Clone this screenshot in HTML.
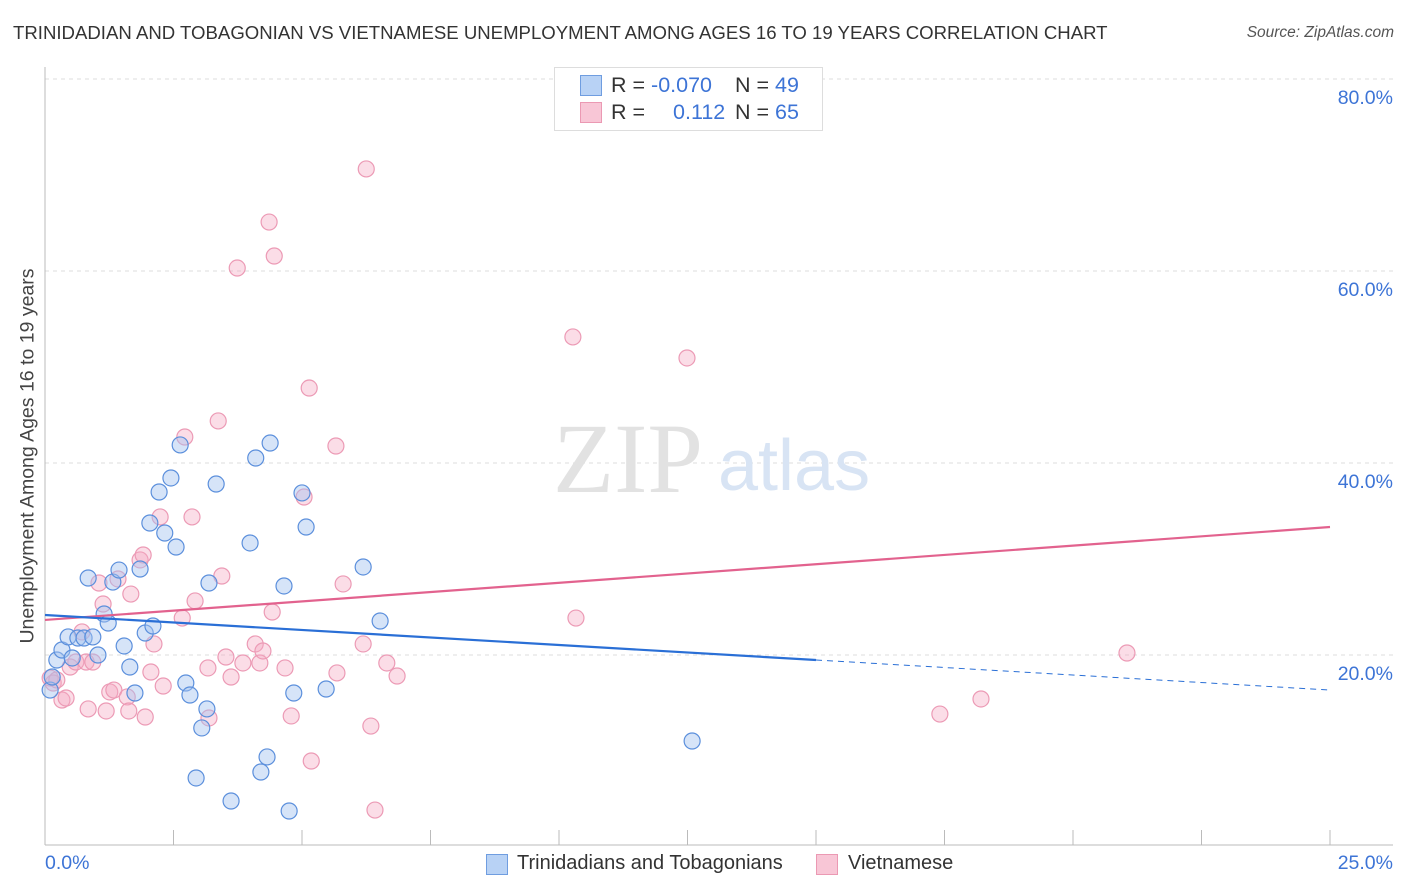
<!DOCTYPE html>
<html><head><meta charset="utf-8">
<style>
body{margin:0;background:#fff;font-family:"Liberation Sans",sans-serif;}
#wrap{position:relative;width:1406px;height:892px;overflow:hidden;}
.t{position:absolute;white-space:nowrap;}
</style></head>
<body>
<div id="wrap">
<div class="t" style="left:13px;top:22px;font-size:18.6px;color:#333;">TRINIDADIAN AND TOBAGONIAN VS VIETNAMESE UNEMPLOYMENT AMONG AGES 16 TO 19 YEARS CORRELATION CHART</div>
<div class="t" style="right:12px;top:24px;font-size:15.5px;color:#555;font-style:italic;">Source: ZipAtlas.com</div>
<svg id="plot" width="1406" height="892" style="position:absolute;left:0;top:0"></svg>
<div class="t" style="left:554px;top:67px;width:267px;height:62px;border:1px solid #ddd;background:#fff;"></div>
<div class="t" style="left:580px;top:75px;width:20px;height:19px;background:#b8d2f5;border:1px solid #6f9de0;"></div>
<div class="t" style="left:580px;top:102px;width:20px;height:19px;background:#f8c6d6;border:1px solid #eb99b3;"></div>
<div class="t" style="left:611px;top:73px;font-size:21.5px;color:#333;">R = <span style="color:#3d74d6">-0.070</span></div>
<div class="t" style="left:735px;top:73px;font-size:21.5px;color:#333;">N = <span style="color:#3d74d6">49</span></div>
<div class="t" style="left:611px;top:100px;font-size:21.5px;color:#333;">R = <span style="color:#3d74d6;margin-left:22px">0.112</span></div>
<div class="t" style="left:735px;top:100px;font-size:21.5px;color:#333;">N = <span style="color:#3d74d6">65</span></div>
<div class="t" style="left:28px;top:456px;font-size:19.5px;color:#444;transform:translate(-50%,-50%) rotate(-90deg);">Unemployment Among Ages 16 to 19 years</div>
<div class="t" style="left:45px;top:852px;font-size:19.5px;color:#3d74d6;">0.0%</div>
<div class="t" style="right:13px;top:852px;font-size:19.5px;color:#3d74d6;">25.0%</div>
<div class="t" style="left:486px;top:854px;width:20px;height:19px;background:#b8d2f5;border:1px solid #6f9de0;"></div>
<div class="t" style="left:517px;top:852px;font-size:20px;color:#333;">Trinidadians and Tobagonians</div>
<div class="t" style="left:816px;top:854px;width:20px;height:19px;background:#f8c6d6;border:1px solid #eb99b3;"></div>
<div class="t" style="left:848px;top:852px;font-size:20px;color:#333;">Vietnamese</div>
</div>
<script>
const blueX=[0.10,0.14,0.23,0.33,0.45,0.53,0.64,0.76,0.84,0.93,1.03,1.15,1.23,1.32,1.44,1.54,1.65,1.75,1.85,1.95,2.04,2.10,2.22,2.33,2.45,2.55,2.63,2.74,2.82,2.94,3.05,3.15,3.19,3.33,3.62,3.99,4.10,4.20,4.32,4.38,4.65,4.75,4.84,5.00,5.08,5.47,6.19,6.52,12.59];
const blueY=[16.35,17.71,19.48,20.52,21.88,19.69,21.77,21.77,28.02,21.88,20.0,24.27,23.33,27.6,28.85,20.94,18.75,16.04,28.96,22.29,33.75,23.02,36.98,32.71,38.44,31.25,41.88,17.08,15.83,7.19,12.40,14.38,27.5,37.81,4.79,31.67,40.52,7.81,9.38,42.08,27.19,3.75,16.04,36.88,33.33,16.46,29.17,23.54,11.04];
const pinkX=[0.10,0.16,0.23,0.33,0.41,0.49,0.60,0.72,0.80,0.84,0.93,1.05,1.13,1.19,1.26,1.34,1.42,1.60,1.63,1.67,1.85,1.91,1.95,2.06,2.12,2.24,2.30,2.67,2.72,2.86,2.92,3.17,3.19,3.37,3.44,3.52,3.62,3.74,3.85,4.09,4.18,4.24,4.36,4.42,4.46,4.67,4.79,5.04,5.14,5.18,5.66,5.68,5.80,6.19,6.25,6.34,6.42,6.65,6.85,10.27,10.33,12.49,17.41,18.21,21.05];
const pinkY=[17.6,17.08,17.4,15.31,15.52,18.75,19.27,22.4,19.27,14.38,19.27,27.5,25.31,14.17,16.15,16.35,27.92,15.63,14.17,26.35,29.9,30.42,13.54,18.23,21.15,34.38,16.77,23.85,42.71,34.38,25.63,18.65,13.44,44.38,28.23,19.79,17.71,60.31,19.17,21.15,19.17,20.42,65.1,24.48,61.56,18.65,13.65,36.46,47.81,8.96,41.77,18.13,27.4,21.15,70.63,12.6,3.85,19.17,17.81,53.13,23.85,50.94,13.85,15.42,20.21];
const yTicks=[20,40,60,80];
const yTickLabels=["20.0%","40.0%","60.0%","80.0%"];
const blueTrend=[24.17,19.48,16.35]; // at x=0, 15, 25
const pinkTrend=[23.65,33.33]; // at x=0, 25

const NS="http://www.w3.org/2000/svg";
const svg=document.getElementById('plot');
const sx=v=>45+v*(1285/25);
const sy=v=>847-v*9.6;
function mk(tag,attrs){const e=document.createElementNS(NS,tag);for(const k in attrs)e.setAttribute(k,attrs[k]);svg.appendChild(e);return e;}
yTicks.forEach((t,i)=>{
  const g=mk('line',{x1:45,x2:1393,y1:sy(t),y2:sy(t),stroke:'#ddd','stroke-dasharray':'4,4'});
  
  
  const tx=mk('text',{x:1393,y:sy(t)+25,'text-anchor':'end','font-size':19.5,fill:'#3d74d6','font-family':'Liberation Sans, sans-serif'});
  tx.textContent=yTickLabels[i];
  
  
});
const ax=mk('line',{x1:45,x2:45,y1:67,y2:845,stroke:'#bbb'});


const bx=mk('line',{x1:45,x2:1393,y1:845,y2:845,stroke:'#bbb'});


for(let i=0;i<=10;i++){
  const tk=mk('line',{x1:sx(i*2.5),x2:sx(i*2.5),y1:830,y2:845,stroke:'#bbb'});
  
  
}
const wm=mk('text',{x:553,y:492,'font-size':100,fill:'#e2e2e2','font-family':'Liberation Serif, serif'});
wm.textContent='ZIP';


const wm2=mk('text',{x:718,y:490,'font-size':72,fill:'#d8e4f4','font-family':'Liberation Sans, sans-serif'});
wm2.textContent='atlas';


pinkX.forEach((x,i)=>{
  const c=mk('circle',{cx:sx(x),cy:sy(pinkY[i]),r:8,fill:'rgba(244,170,195,0.4)',stroke:'#ec9ab5','stroke-width':1.2});
  
  
});
blueX.forEach((x,i)=>{
  const c=mk('circle',{cx:sx(x),cy:sy(blueY[i]),r:8,fill:'rgba(164,196,240,0.45)',stroke:'#5b8fdc','stroke-width':1.2});
  
  
});
const pl=mk('line',{x1:sx(0),y1:sy(pinkTrend[0]),x2:sx(25),y2:sy(pinkTrend[1]),stroke:'#e2628e','stroke-width':2.2});


const bl=mk('line',{x1:sx(0),y1:sy(blueTrend[0]),x2:sx(15),y2:sy(blueTrend[1]),stroke:'#2a6fd6','stroke-width':2.2});


const bd=mk('line',{x1:sx(15),y1:sy(blueTrend[1]),x2:sx(25),y2:sy(blueTrend[2]),stroke:'#2a6fd6','stroke-width':1,'stroke-dasharray':'6,5'});


</script>
</body></html>
